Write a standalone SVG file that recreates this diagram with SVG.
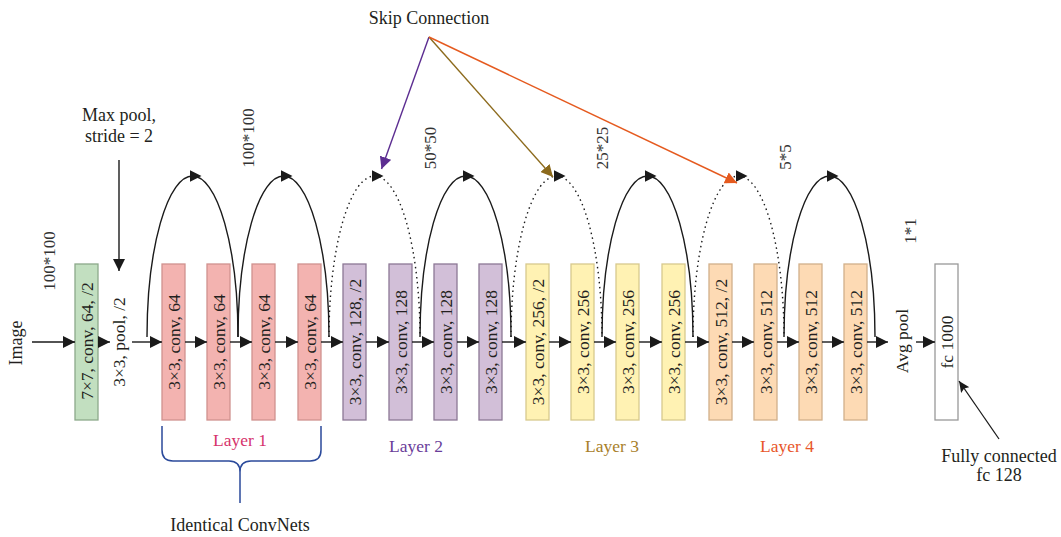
<svg xmlns="http://www.w3.org/2000/svg" width="1061" height="537" viewBox="0 0 1061 537">
<style>
text{font-family:"Liberation Serif","Times New Roman",serif;fill:#231f20;text-anchor:middle}
.bt{font-size:17.5px}
.lb{font-size:18px}
.dim{font-size:17px;fill:#333}
.ly{font-size:17.5px}
.g rect{fill:#c2dfc0;stroke:#8ca98a;stroke-width:1.3}
.p rect{fill:#f3b3b0;stroke:#d0928f;stroke-width:1.3}
.v rect{fill:#d2bfd8;stroke:#8d7896;stroke-width:1.3}
.y rect{fill:#fff2b3;stroke:#d8c98e;stroke-width:1.3}
.o rect{fill:#fddab4;stroke:#d2b08a;stroke-width:1.3}
.w rect{fill:#fff;stroke:#999;stroke-width:1.3}
.ln{stroke:#1a1a1a;stroke-width:1.4;fill:none}
.arc{stroke:#1a1a1a;stroke-width:1.4;fill:none;marker-mid:url(#am)}
.dot{stroke-dasharray:1.5 3.5}
</style>
<defs>
<marker id="ah" markerUnits="userSpaceOnUse" markerWidth="12" markerHeight="12" refX="12" refY="6" orient="auto" viewBox="0 0 12 12"><path d="M0,0 L12,6 L0,12 z" fill="#1a1a1a"/></marker>
<marker id="am" markerUnits="userSpaceOnUse" markerWidth="12" markerHeight="12" refX="3" refY="6" orient="auto" viewBox="0 0 12 12"><path d="M0,0 L12,6 L0,12 z" fill="#1a1a1a"/></marker>
<marker id="as" markerUnits="userSpaceOnUse" markerWidth="11" markerHeight="11" refX="11" refY="5.5" orient="auto" viewBox="0 0 11 11"><path d="M0,0.5 L11,5.5 L0,10.5 L2,5.5 z" fill="#1a1a1a"/></marker>
<marker id="ap" markerUnits="userSpaceOnUse" markerWidth="12" markerHeight="12" refX="12" refY="6" orient="auto" viewBox="0 0 12 12"><path d="M0,0 L12,6 L0,12 z" fill="#5c2d91"/></marker>
<marker id="ab" markerUnits="userSpaceOnUse" markerWidth="12" markerHeight="12" refX="12" refY="6" orient="auto" viewBox="0 0 12 12"><path d="M0,0 L12,6 L0,12 z" fill="#8c6a1c"/></marker>
<marker id="ao" markerUnits="userSpaceOnUse" markerWidth="12" markerHeight="12" refX="12" refY="6" orient="auto" viewBox="0 0 12 12"><path d="M0,0 L12,6 L0,12 z" fill="#e55a1f"/></marker>
</defs>

<g id="labels">
<text class="lb" transform="translate(22,343) rotate(-90)">Image</text>
<text class="dim" transform="translate(55,261) rotate(-90)">100*100</text>
<text class="lb" x="119" y="121">Max pool,</text>
<text class="lb" x="119" y="142">stride = 2</text>
<text class="bt" transform="translate(125,342) rotate(-90)">3×3, pool, /2</text>
<text class="dim" transform="translate(254,138) rotate(-90)">100*100</text>
<text class="dim" transform="translate(436,148) rotate(-90)">50*50</text>
<text class="dim" transform="translate(608,148) rotate(-90)">25*25</text>
<text class="dim" transform="translate(791,157) rotate(-90)">5*5</text>
<text class="dim" transform="translate(916,231) rotate(-90)">1*1</text>
<text class="lb" x="429" y="24">Skip Connection</text>
<text class="bt" transform="translate(908,341) rotate(-90)">Avg pool</text>
<text class="lb" x="999" y="462">Fully connected</text>
<text class="lb" x="999" y="481">fc 128</text>
<text class="ly" x="240" y="446" style="fill:#d6336c">Layer 1</text>
<text class="ly" x="416" y="452" style="fill:#6a3d9a">Layer 2</text>
<text class="ly" x="612" y="452" style="fill:#a8802a">Layer 3</text>
<text class="ly" x="787" y="452" style="fill:#e8562a">Layer 4</text>
<text class="lb" x="240" y="531">Identical ConvNets</text>
</g>

<g id="conv1" class="g"><rect x="75" y="264" width="23" height="156"/><text class="bt" transform="translate(92.5,341) rotate(-90)">7×7, conv, 64, /2</text></g>

<g id="layer1" class="p">
<rect x="162" y="264" width="23" height="156"/><text class="bt" transform="translate(179.5,342) rotate(-90)">3×3, conv, 64</text>
<rect x="207" y="264" width="23" height="156"/><text class="bt" transform="translate(224.5,342) rotate(-90)">3×3, conv, 64</text>
<rect x="252" y="264" width="23" height="156"/><text class="bt" transform="translate(269.5,342) rotate(-90)">3×3, conv, 64</text>
<rect x="298" y="264" width="23" height="156"/><text class="bt" transform="translate(315.5,342) rotate(-90)">3×3, conv, 64</text>
</g>
<g id="layer2" class="v">
<rect x="343" y="264" width="23" height="156"/><text class="bt" transform="translate(360.5,342) rotate(-90)">3×3, conv, 128, /2</text>
<rect x="389" y="264" width="23" height="156"/><text class="bt" transform="translate(406.5,342) rotate(-90)">3×3, conv, 128</text>
<rect x="434" y="264" width="23" height="156"/><text class="bt" transform="translate(451.5,342) rotate(-90)">3×3, conv, 128</text>
<rect x="479" y="264" width="23" height="156"/><text class="bt" transform="translate(496.5,342) rotate(-90)">3×3, conv, 128</text>
</g>
<g id="layer3" class="y">
<rect x="526" y="264" width="23" height="156"/><text class="bt" transform="translate(543.5,342) rotate(-90)">3×3, conv, 256, /2</text>
<rect x="571" y="264" width="23" height="156"/><text class="bt" transform="translate(588.5,342) rotate(-90)">3×3, conv, 256</text>
<rect x="616" y="264" width="23" height="156"/><text class="bt" transform="translate(633.5,342) rotate(-90)">3×3, conv, 256</text>
<rect x="662" y="264" width="23" height="156"/><text class="bt" transform="translate(679.5,342) rotate(-90)">3×3, conv, 256</text>
</g>
<g id="layer4" class="o">
<rect x="709" y="264" width="23" height="156"/><text class="bt" transform="translate(726.5,342) rotate(-90)">3×3, conv, 512, /2</text>
<rect x="754" y="264" width="23" height="156"/><text class="bt" transform="translate(771.5,342) rotate(-90)">3×3, conv, 512</text>
<rect x="799" y="264" width="23" height="156"/><text class="bt" transform="translate(816.5,342) rotate(-90)">3×3, conv, 512</text>
<rect x="844" y="264" width="23" height="156"/><text class="bt" transform="translate(861.5,342) rotate(-90)">3×3, conv, 512</text>
</g>
<g id="fc" class="w"><rect x="935" y="264" width="23" height="156"/><text class="bt" transform="translate(952.5,342) rotate(-90)">fc 1000</text></g>

<g id="connectors">
<g class="ln" marker-end="url(#ah)">
<path d="M32,342H75"/><path d="M98,342H110"/><path d="M132,342H162"/>
<path d="M185,342H207"/><path d="M230,342H252"/><path d="M275,342H298"/><path d="M321,342H343"/>
<path d="M366,342H389"/><path d="M412,342H434"/><path d="M457,342H479"/><path d="M502,342H526"/>
<path d="M549,342H571"/><path d="M594,342H616"/><path d="M639,342H662"/><path d="M685,342H709"/>
<path d="M732,342H754"/><path d="M777,342H799"/><path d="M822,342H844"/><path d="M867,342H888"/>
<path d="M916,342H935"/>
<path d="M119,160V271"/>
</g>
<g>
<path class="arc" d="M147,337 A45.5,161 0 0 1 192.5,176 A45.5,161 0 0 1 238,337"/>
<path class="arc" d="M238,337 A45.5,161 0 0 1 283.5,176 A45.5,161 0 0 1 329,337"/>
<path class="arc dot" d="M329,337 A45.5,161 0 0 1 374.5,176 A45.5,161 0 0 1 420,337"/>
<path class="arc" d="M420,337 A45.5,161 0 0 1 465.5,176 A45.5,161 0 0 1 511,337"/>
<path class="arc dot" d="M511,337 A45.5,161 0 0 1 556.5,176 A45.5,161 0 0 1 602,337"/>
<path class="arc" d="M602,337 A45.5,161 0 0 1 647.5,176 A45.5,161 0 0 1 693,337"/>
<path class="arc dot" d="M693,337 A45.5,161 0 0 1 738.5,176 A45.5,161 0 0 1 784,337"/>
<path class="arc" d="M784,337 A45.5,161 0 0 1 829.5,176 A45.5,161 0 0 1 875,337"/>
</g>
<path d="M429,37L381.5,169" stroke="#5c2d91" stroke-width="1.4" fill="none" marker-end="url(#ap)"/>
<path d="M429,37L553,177" stroke="#8c6a1c" stroke-width="1.4" fill="none" marker-end="url(#ab)"/>
<path d="M429,37L737,183" stroke="#e55a1f" stroke-width="1.4" fill="none" marker-end="url(#ao)"/>
<path d="M999,439L959,381" stroke="#1a1a1a" stroke-width="1.3" fill="none" marker-end="url(#as)"/>
<path d="M162,426V450Q162,461 173,461H229Q240,461 240,472V503M321,426V450Q321,461 310,461H251Q240,461 240,472" stroke="#2b4a9b" stroke-width="1.5" fill="none"/>
</g>
</svg>
